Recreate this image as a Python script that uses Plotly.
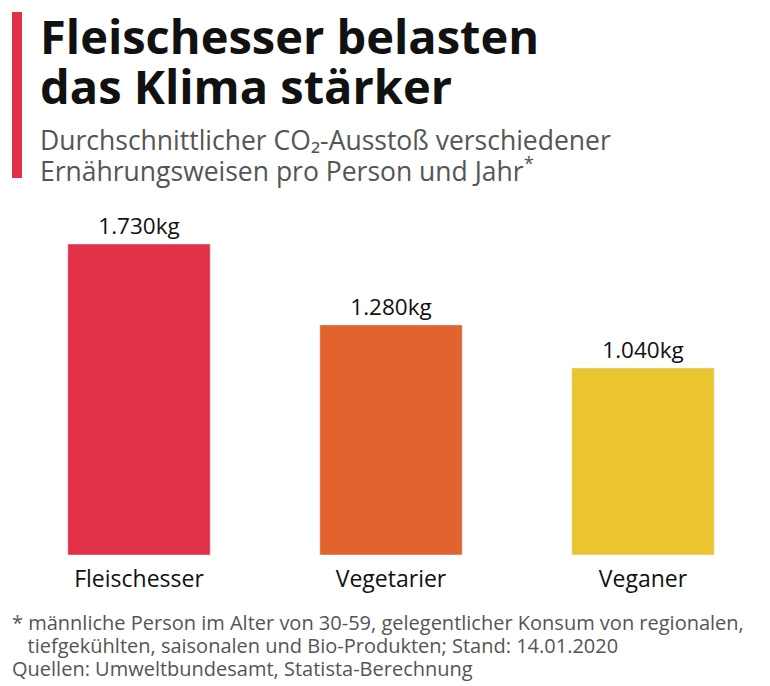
import plotly.graph_objects as go

categories = ["Fleischesser", "Vegetarier", "Veganer"]
values = [1730, 1280, 1040]
labels = ["1.730kg", "1.280kg", "1.040kg"]
colors = ["#e03146", "#e3632e", "#ebc530"]

def px(x): return (x - 13) / 756
def py(y): return (555 - y) / 311

def txt(t, x, y, size, color, bold=False):
    return dict(text=f"<b>{t}</b>" if bold else t, xref="paper", yref="paper", x=px(x), y=py(y),
                xanchor="left", yanchor="middle", showarrow=False, align="left",
                font=dict(size=size, color=color, family="Open Sans"))

fig = go.Figure(go.Bar(x=categories, y=values, marker_color=colors, width=0.565,
                       text=labels, textposition="outside", cliponaxis=False,
                       textfont=dict(size=22.5, color="#111", family="Open Sans")))
fig.update_layout(
    width=770, height=686, margin=dict(l=5, r=9, t=236, b=139),
    plot_bgcolor="white", paper_bgcolor="white", showlegend=False,
    font=dict(family="Open Sans"),
    xaxis=dict(showgrid=False, showline=False, ticks="", ticklabelstandoff=8,
               tickfont=dict(size=23, color="#111")),
    yaxis=dict(range=[0, 1730], visible=False),
    shapes=[dict(type="rect", xref="paper", yref="paper", x0=px(12), x1=px(22),
                 y0=py(12), y1=py(178), fillcolor="#e03146", line_width=0)],
    annotations=[
        txt("Fleischesser belasten", 38, 36, 47, "#111", True),
        txt("das Klima stärker", 38, 86, 47, "#111", True),
        txt("Durchschnittlicher CO₂-Ausstoß verschiedener", 38, 140, 26.5, "#555"),
        txt("Ernährungsweisen pro Person und Jahr<sup>*</sup>", 38, 169, 26.5, "#555"),
        txt("* männliche Person im Alter von 30-59, gelegentlicher Konsum von regionalen,", 10, 622, 20, "#555"),
        txt("   tiefgekühlten, saisonalen und Bio-Produkten; Stand: 14.01.2020", 10, 645, 20, "#555"),
        txt("Quellen: Umweltbundesamt, Statista-Berechnung", 10, 668, 20, "#555"),
    ],
)
fig.write_html("out.html")
